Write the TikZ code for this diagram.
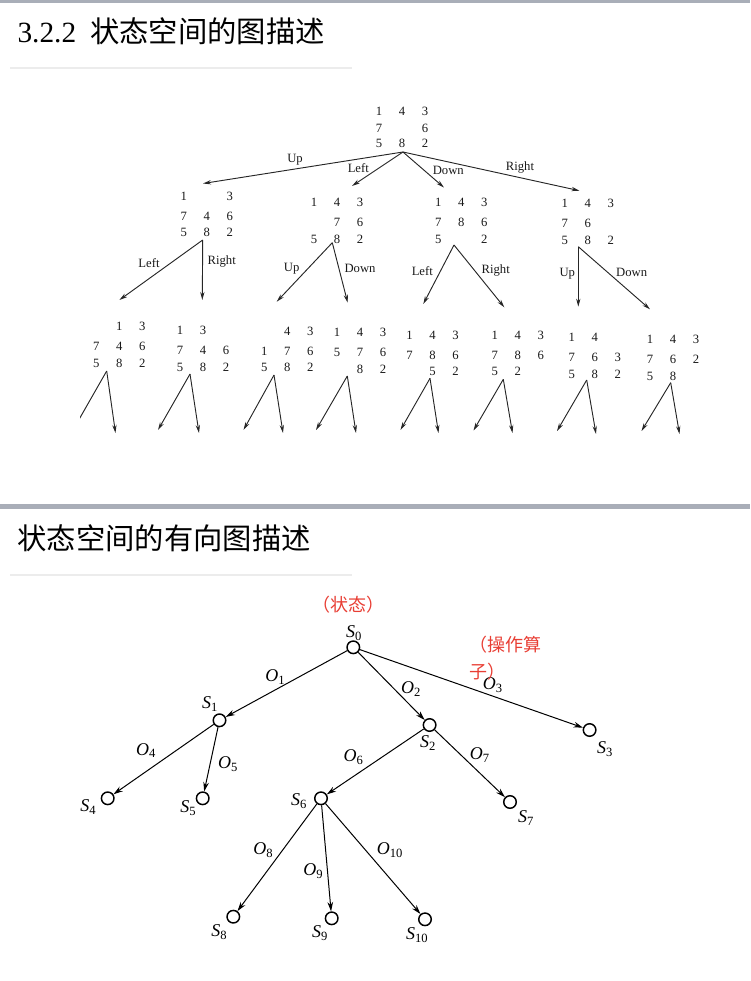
\documentclass[tikz,border=0pt]{standalone}
\usepackage{fontspec}
\setmainfont{Liberation Serif}
\newfontfamily\cjkfont{Noto Sans CJK SC}
\usetikzlibrary{arrows.meta}

\definecolor{barcol}{RGB}{169,174,184}
\definecolor{rulecol}{RGB}{236,236,236}
\definecolor{notered}{RGB}{232,62,52}

\tikzset{every picture/.style={line width=0.75pt}}
\tikzset{
  board/.style={inner sep=0pt, align=center, text=black!90, font=\fontsize{9.5}{12.4}\selectfont},
  mlbl/.style={inner sep=0pt, text=black!90, font=\fontsize{9.5}{11}\selectfont},
  marrow/.style={draw=black!85, line width=0.7pt, -{Stealth[length=6pt,width=3.2pt]}},
  st/.style={circle, draw, line width=1.1pt, minimum size=9.4pt, inner sep=0pt},
  oarrow/.style={line width=0.75pt, -{Stealth[length=7pt,width=4.2pt]}},
  slbl/.style={inner sep=0pt, font=\fontsize{13.5}{15}\selectfont},
  head/.style={inner sep=0pt, anchor=base west, font=\fontsize{22}{26}\selectfont},
  note/.style={inner sep=0pt, text=notered, font=\cjkfont\fontsize{13.5}{20}\selectfont},
}
\newcommand{\trow}[3]{\makebox[17.25pt]{#1}\makebox[17.25pt]{#2}\makebox[17.25pt]{#3}}
\newcommand{\stlbl}[1]{\textit{S}\textsubscript{#1}}
\newcommand{\oplbl}[1]{\textit{O}\textsubscript{#1}}

\begin{document}
\begin{tikzpicture}[x=0.75pt,y=0.75pt,yscale=-1,xscale=1]
	\useasboundingbox (0,0) rectangle (750,981);
	
	%Bars and rules
	\fill [barcol] (0,0) rectangle (750,3);
	\fill [barcol] (0,504) rectangle (750,509);
	\draw [rulecol, line width=1.1pt] (10,68) -- (352,68);
	\draw [rulecol, line width=1.1pt] (10,575) -- (352,575);
	
	% Titles
	\node [head] (title1) at (17,43) {3.2.2\hspace{10.5pt}{\cjkfont 状态空间的图描述}};
	\node [head] (title2) at (17,549) {\cjkfont 状态空间的有向图描述};
	
	%Boards: root and first level
	\node [board, font=\fontsize{9.5}{10.9}\selectfont] (b0) at (402,127) {\trow{1}{4}{3}\\[2.2pt]\trow{7}{}{6}\\\trow{5}{8}{2}};
	\node [board] (b1) at (206.7,214.3) {\trow{1}{}{3}\\[2.6pt]\trow{7}{4}{6}\\\trow{5}{8}{2}};
	\node [board] (b2) at (337,220.7) {\trow{1}{4}{3}\\[2.6pt]\trow{}{7}{6}\\\trow{5}{8}{2}};
	\node [board] (b3) at (461.3,220.7) {\trow{1}{4}{3}\\[2.6pt]\trow{7}{8}{6}\\\trow{5}{}{2}};
	\node [board] (b4) at (587.7,221.7) {\trow{1}{4}{3}\\[2.6pt]\trow{7}{6}{}\\\trow{5}{8}{2}};
	
	%Boards: second level
	\node [board] (bA) at (119.3,345) {\trow{}{1}{3}\\[2.6pt]\trow{7}{4}{6}\\\trow{5}{8}{2}};
	\node [board] (bB) at (203,348.7) {\trow{1}{3}{}\\[2.6pt]\trow{7}{4}{6}\\\trow{5}{8}{2}};
	\node [board] (bC) at (287.3,349.5) {\trow{}{4}{3}\\[2.6pt]\trow{1}{7}{6}\\\trow{5}{8}{2}};
	\node [board] (bD) at (360,350.8) {\trow{1}{4}{3}\\[2.6pt]\trow{5}{7}{6}\\\trow{}{8}{2}};
	\node [board] (bE) at (432.5,353.3) {\trow{1}{4}{3}\\[2.6pt]\trow{7}{8}{6}\\\trow{}{5}{2}};
	\node [board] (bF) at (517.7,353.3) {\trow{1}{4}{3}\\[2.6pt]\trow{7}{8}{6}\\\trow{5}{2}{}};
	\node [board] (bG) at (594.7,356) {\trow{1}{4}{}\\[2.6pt]\trow{7}{6}{3}\\\trow{5}{8}{2}};
	\node [board] (bH) at (673,358) {\trow{1}{4}{3}\\[2.6pt]\trow{7}{6}{2}\\\trow{5}{8}{}};
	
	%Apex points under the boards
	\coordinate (a0) at (403,152);
	\coordinate (a1) at (202.7,240);
	\coordinate (a2) at (332.3,242.7);
	\coordinate (a3) at (454,245);
	\coordinate (a4) at (578.3,246.7);
	\coordinate (aA) at (106.7,371);
	\coordinate (aB) at (190,374);
	\coordinate (aC) at (274,375);
	\coordinate (aD) at (347.3,376);
	\coordinate (aE) at (430,378.3);
	\coordinate (aF) at (503.3,379.3);
	\coordinate (aG) at (586.7,380);
	\coordinate (aH) at (670.7,382.7);
	
	%Arrow ends
	\coordinate (t0u) at (203,183.5);
	\coordinate (t0l) at (352,186);
	\coordinate (t0d) at (444,187.5);
	\coordinate (t0r) at (579.5,190.7);
	\coordinate (t1l) at (119.4,300);
	\coordinate (t1r) at (202.3,300);
	\coordinate (t2u) at (276.7,301.7);
	\coordinate (t2d) at (347.7,302.7);
	\coordinate (t3l) at (423.3,304);
	\coordinate (t3r) at (504.3,307.3);
	\coordinate (t4u) at (578.3,306.7);
	\coordinate (t4d) at (650,309.3);
	\coordinate (tAl) at (73,430);
	\coordinate (tAr) at (115.5,433);
	\coordinate (tBl) at (158,430);
	\coordinate (tBr) at (199,433);
	\coordinate (tCl) at (243.5,430);
	\coordinate (tCr) at (283,433);
	\coordinate (tDl) at (316,430);
	\coordinate (tDr) at (356,433);
	\coordinate (tEl) at (400.5,430);
	\coordinate (tEr) at (438.5,433);
	\coordinate (tFl) at (473.5,430.5);
	\coordinate (tFr) at (512.5,433);
	\coordinate (tGl) at (557,431);
	\coordinate (tGr) at (596,434);
	\coordinate (tHl) at (641.5,431);
	\coordinate (tHr) at (679.5,434);
	
	%Straight Lines: moves
	\draw [marrow] (a0) -- (t0u);
	\draw [marrow] (a0) -- (t0l);
	\draw [marrow] (a0) -- (t0d);
	\draw [marrow] (a0) -- (t0r);
	\draw [marrow] (a1) -- (t1l);
	\draw [marrow] (a1) -- (t1r);
	\draw [marrow] (a2) -- (t2u);
	\draw [marrow] (a2) -- (t2d);
	\draw [marrow] (a3) -- (t3l);
	\draw [marrow] (a3) -- (t3r);
	\draw [marrow] (a4) -- (t4u);
	\draw [marrow] (a4) -- (t4d);
	\begin{scope}
		\clip (80,360) rectangle (140,440);
		\draw [marrow] (aA) -- (tAl);
	\end{scope}
	\draw [marrow] (aA) -- (tAr);
	\draw [marrow] (aB) -- (tBl);
	\draw [marrow] (aB) -- (tBr);
	\draw [marrow] (aC) -- (tCl);
	\draw [marrow] (aC) -- (tCr);
	\draw [marrow] (aD) -- (tDl);
	\draw [marrow] (aD) -- (tDr);
	\draw [marrow] (aE) -- (tEl);
	\draw [marrow] (aE) -- (tEr);
	\draw [marrow] (aF) -- (tFl);
	\draw [marrow] (aF) -- (tFr);
	\draw [marrow] (aG) -- (tGl);
	\draw [marrow] (aG) -- (tGr);
	\draw [marrow] (aH) -- (tHl);
	\draw [marrow] (aH) -- (tHr);
	
	% Text Node: move names
	\node [mlbl] (m0u) at (295,160) {Up};
	\node [mlbl] (m0l) at (358.3,168.3) {Left};
	\node [mlbl] (m0d) at (448.3,170.7) {Down};
	\node [mlbl] (m0r) at (520,167.3) {Right};
	\node [mlbl] (m1l) at (149,262.7) {Left};
	\node [mlbl] (m1r) at (221.7,261.7) {Right};
	\node [mlbl] (m2u) at (291.7,268.3) {Up};
	\node [mlbl] (m2d) at (360,268.3) {Down};
	\node [mlbl] (m3l) at (422.3,270.7) {Left};
	\node [mlbl] (m3r) at (495.7,270.7) {Right};
	\node [mlbl] (m4u) at (567.3,273.3) {Up};
	\node [mlbl] (m4d) at (631.7,272.7) {Down};
	
	%Shape: Circle (states)
	\node [st] (s0) at (353.3,647.3) {};
	\node [st] (s1) at (219.5,720.3) {};
	\node [st] (s2) at (429.6,725) {};
	\node [st] (s3) at (589.6,730) {};
	\node [st] (s4) at (107.7,798.3) {};
	\node [st] (s5) at (202.7,798.3) {};
	\node [st] (s6) at (321,798.3) {};
	\node [st] (s7) at (510,802) {};
	\node [st] (s8) at (233.3,916.7) {};
	\node [st] (s9) at (331.7,918.3) {};
	\node [st] (s10) at (425,919.3) {};
	
	%Straight Lines: operators
	\draw [oarrow] (s0) -- (s1);
	\draw [oarrow] (s0) -- (s2);
	\draw [oarrow] (s0) -- (s3);
	\draw [oarrow] (s1) -- (s4);
	\draw [oarrow] (s1) -- (s5);
	\draw [oarrow] (s2) -- (s6);
	\draw [oarrow] (s2) -- (s7);
	\draw [oarrow] (s6) -- (s8);
	\draw [oarrow] (s6) -- (s9);
	\draw [oarrow] (s6) -- (s10);
	
	% Text Node: state names
	\node [slbl] (ls0) at (354,632.7) {\stlbl{0}};
	\node [slbl] (ls1) at (210,704) {\stlbl{1}};
	\node [slbl] (ls2) at (428,743) {\stlbl{2}};
	\node [slbl] (ls3) at (605,749) {\stlbl{3}};
	\node [slbl] (ls4) at (88.3,806.7) {\stlbl{4}};
	\node [slbl] (ls5) at (188.3,807.7) {\stlbl{5}};
	\node [slbl] (ls6) at (299,801) {\stlbl{6}};
	\node [slbl] (ls7) at (526,818) {\stlbl{7}};
	\node [slbl] (ls8) at (219.3,931.7) {\stlbl{8}};
	\node [slbl] (ls9) at (320,933.3) {\stlbl{9}};
	\node [slbl] (ls10) at (417.3,935) {\stlbl{10}};
	
	% Text Node: operator names
	\node [slbl] (lo1) at (275.4,677.3) {\oplbl{1}};
	\node [slbl] (lo2) at (411,689.3) {\oplbl{2}};
	\node [slbl] (lo3) at (492.8,685) {\oplbl{3}};
	\node [slbl] (lo4) at (146,750.5) {\oplbl{4}};
	\node [slbl] (lo5) at (228,764) {\oplbl{5}};
	\node [slbl] (lo6) at (353.5,757) {\oplbl{6}};
	\node [slbl] (lo7) at (479.8,755) {\oplbl{7}};
	\node [slbl] (lo8) at (263.3,850) {\oplbl{8}};
	\node [slbl] (lo9) at (313.3,870.7) {\oplbl{9}};
	\node [slbl] (lo10) at (390,850) {\oplbl{10}};
	
	% Text Node: red notes
	\node [note] (nstate) at (348.5,605) {（状态）};
	\node [note, anchor=west, align=left] (nop) at (469,658.3) {（操作算\\子）};
	
\end{tikzpicture}
\end{document}
